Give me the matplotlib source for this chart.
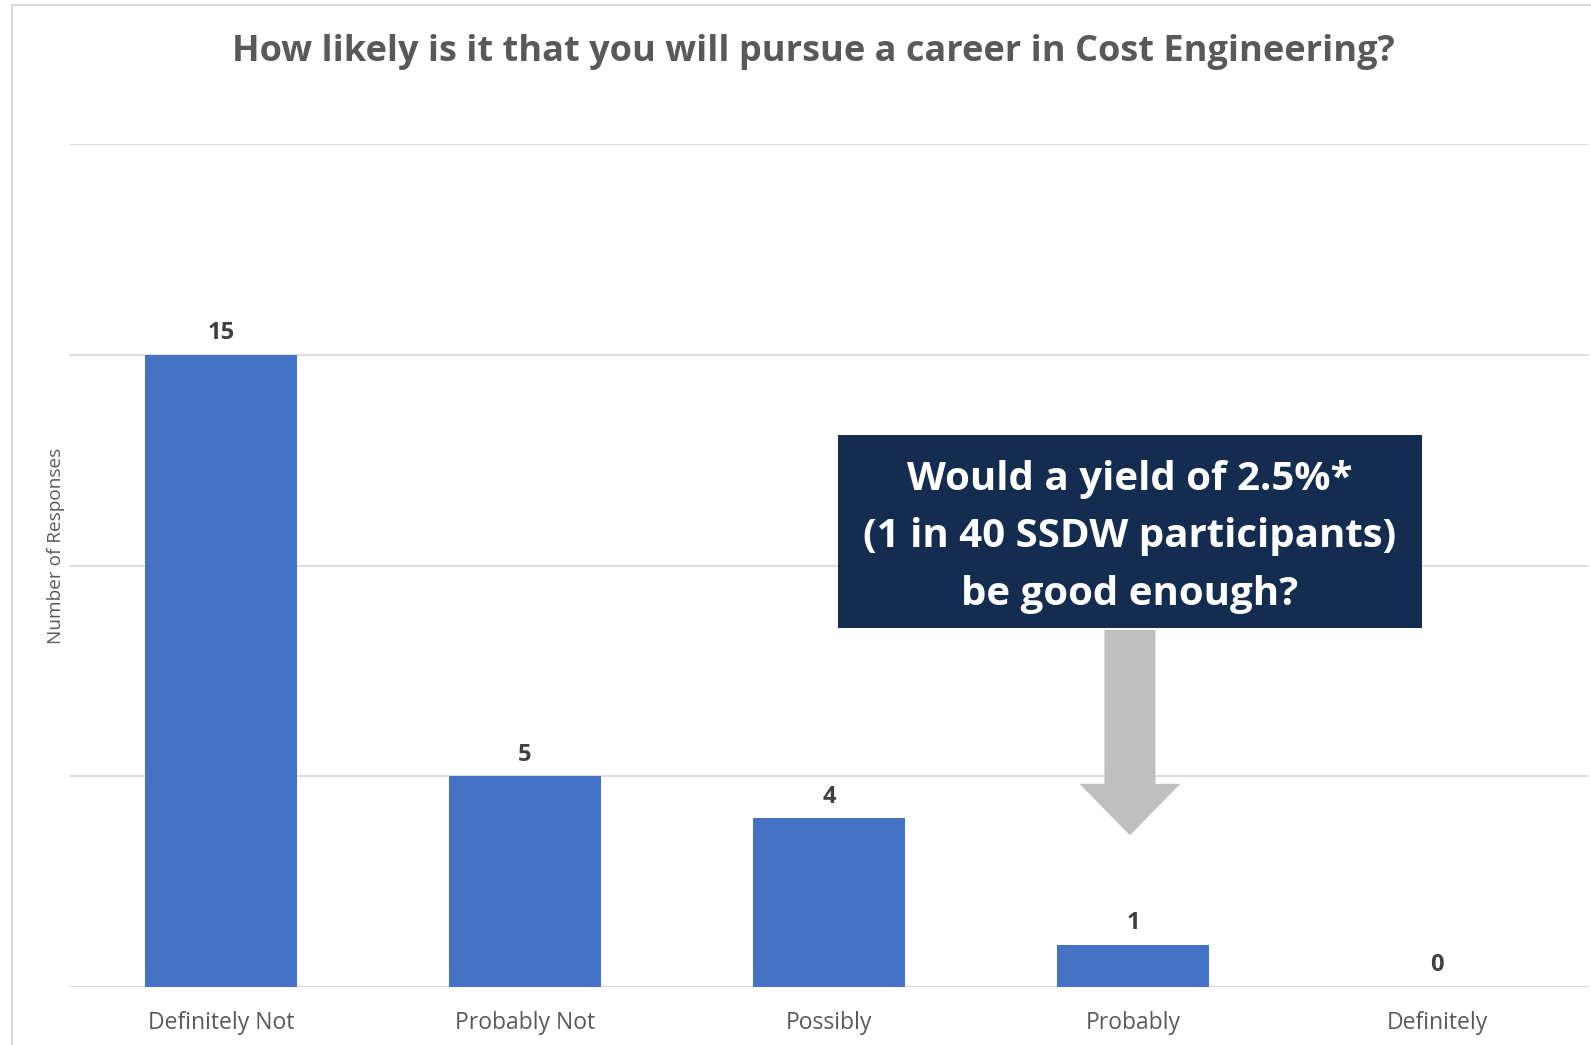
import matplotlib.pyplot as plt
from matplotlib.patches import Rectangle, FancyArrow
from matplotlib.lines import Line2D

plt.rcParams['font.family'] = ['Open Sans', 'DejaVu Sans']

categories = ["Definitely Not", "Probably Not", "Possibly", "Probably", "Definitely"]
responses = [15, 5, 4, 1, 0]

title = "How likely is it that you will pursue a career in Cost Engineering?"
callout_lines = ["Would a yield of 2.5%*", "(1 in 40 SSDW participants)", "be good enough?"]

bar_color = "#4472C4"
grid_color = "#D9D9D9"
text_gray = "#595959"
navy = "#142C4F"

fig = plt.figure(figsize=(15.91, 10.45), dpi=100)
ax = fig.add_axes([0.0434, 0.0555, 0.9553, 0.8067])

x = range(len(categories))
bars = ax.bar(x, responses, width=0.5, color=bar_color, zorder=3)
for b, v in zip(bars, responses):
    ax.annotate(str(v), (b.get_x() + b.get_width() / 2, v), xytext=(0, 7),
                textcoords="offset points", ha="center", va="bottom",
                fontsize=17, fontweight="bold", color="#404040")

ax.set_xlim(-0.5, len(categories) - 0.5)
ax.set_ylim(0, 20)
ax.set_yticks([0, 5, 10, 15, 20])
ax.yaxis.grid(True, color=grid_color, linewidth=1.3, zorder=0)
ax.tick_params(axis="y", length=0, labelleft=False)
ax.set_xticks(list(x))
ax.set_xticklabels(categories, fontsize=16.5, color=text_gray)
ax.tick_params(axis="x", length=0, pad=17.5)
for s in ax.spines.values():
    s.set_visible(False)
ax.set_ylabel("Number of Responses", fontsize=13.7, color=text_gray)
ax.yaxis.set_label_coords(-0.0028, 0.523)

fig.text(0.511, 0.950, title, ha="center", va="center", fontsize=26,
         fontweight="bold", color=text_gray)

# outer chart frame (left and top edges only)
fig.add_artist(Line2D([12 / 1591, 12 / 1591], [0, 1 - 5 / 1045],
                      transform=fig.transFigure, color=grid_color, linewidth=1.5))
fig.add_artist(Line2D([12 / 1591, 1], [1 - 5 / 1045, 1 - 5 / 1045],
                      transform=fig.transFigure, color=grid_color, linewidth=1.5))

# callout box and arrow pointing at the "Probably" bar
ax.add_patch(Rectangle((2.03, 8.52), 1.92, 4.58, facecolor=navy,
                       edgecolor="none", zorder=5))
for i, line in enumerate(callout_lines):
    ax.text(2.99, 12.05 - i * 1.37, line, ha="center", va="center",
            fontsize=29, fontweight="bold", color="white", zorder=6)
ax.add_patch(FancyArrow(2.99, 8.47, 0, -4.87, width=0.168, head_width=0.332,
                        head_length=1.22, length_includes_head=True,
                        facecolor="#BFBFBF", edgecolor="none", zorder=4))

fig.savefig("out.png", dpi=100)
